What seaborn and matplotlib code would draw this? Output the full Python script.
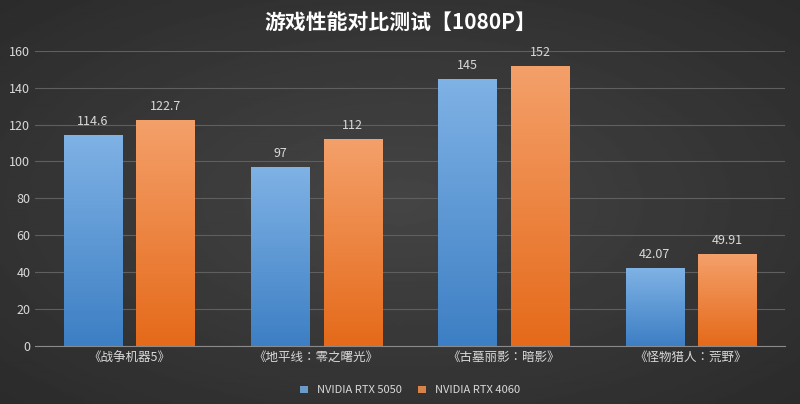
import numpy as np
import pandas as pd
import matplotlib
matplotlib.use("Agg")
import matplotlib.pyplot as plt
from matplotlib import font_manager
from matplotlib.colors import LinearSegmentedColormap
import seaborn as sns

games = ["《战争机器5》", "《地平线：零之曙光》", "《古墓丽影：暗影》", "《怪物猎人：荒野》"]
rtx5050 = [114.6, 97, 145, 42.07]
rtx4060 = [122.7, 112, 152, 49.91]
series = ["NVIDIA RTX 5050", "NVIDIA RTX 4060"]
labels_5050 = ["114.6", "97", "145", "42.07"]
labels_4060 = ["122.7", "112", "152", "49.91"]

df = pd.DataFrame({
    "game": games * 2,
    "fps": rtx5050 + rtx4060,
    "card": [series[0]] * 4 + [series[1]] * 4,
})

# pick whichever CJK family matplotlib actually registered
names = {f.name for f in font_manager.fontManager.ttflist}
cjk = [n for n in ["Noto Sans CJK SC", "Noto Sans CJK JP", "Noto Sans CJK TC",
                   "Noto Sans CJK KR"] if n in names]
cjk += [n for n in sorted(names) if "CJK" in n and n not in cjk]
plt.rcParams["font.family"] = cjk + ["DejaVu Sans"]

fig = plt.figure(figsize=(8, 4.04), dpi=100)

# radial dark background
bg = fig.add_axes([0, 0, 1, 1])
yy, xx = np.mgrid[-1:1:200j, -1:1:400j]
r = np.sqrt(xx**2 + yy**2)
bg.imshow(0.27 - 0.1 * np.clip(r / 1.4, 0, 1), cmap="gray", vmin=0, vmax=1,
          aspect="auto", extent=[0, 1, 0, 1])
bg.axis("off")

ax = fig.add_axes([0.044, 0.144, 0.937, 0.73])
ax.patch.set_alpha(0)
colors = {series[0]: "#5b9bd5", series[1]: "#ed7d31"}
sns.barplot(data=df, x="game", y="fps", hue="card", palette=colors,
            width=0.775, gap=0.2, ax=ax, legend=True, zorder=3)

# vertical gradient fill clipped to each bar
grads = {0: ("#3d7fc4", "#7fb2e5"), 1: ("#e56a1a", "#f4a06a")}
for i, cont in enumerate(ax.containers):
    cmap = LinearSegmentedColormap.from_list("g", grads[i])
    for bar in cont:
        x0, y0 = bar.get_x(), bar.get_y()
        w, h = bar.get_width(), bar.get_height()
        grad = np.linspace(0, 1, 100).reshape(-1, 1)
        im = ax.imshow(grad, cmap=cmap, origin="lower", aspect="auto",
                       extent=[x0, x0 + w, y0, y0 + h], zorder=4)
        im.set_clip_path(bar)
    lbls = labels_5050 if i == 0 else labels_4060
    ax.bar_label(cont, labels=lbls, padding=5, color="#d9d9d9", fontsize=9)

ax.set_xlim(-0.5, 3.5)
ax.set_ylim(0, 160)
ax.set_yticks(range(0, 161, 20))
ax.grid(axis="y", color="#5f5f5f", linewidth=0.8, zorder=0)
ax.set_axisbelow(True)
for s in ["top", "right", "left"]:
    ax.spines[s].set_visible(False)
ax.spines["bottom"].set_color("#8a8a8a")
ax.tick_params(colors="#d9d9d9", labelsize=9, length=0)
ax.set_xlabel("")
ax.set_ylabel("")

leg = ax.legend(loc="upper center", bbox_to_anchor=(0.5, -0.1), ncol=2,
                frameon=False, fontsize=8, handlelength=0.7, handleheight=0.7,
                columnspacing=1.5)
for t in leg.get_texts():
    t.set_color("#d9d9d9")

fig.text(0.5, 0.945, "游戏性能对比测试【1080P】", ha="center", va="center",
         color="white", fontsize=15, fontweight="bold")

fig.savefig("out.png", dpi=100)
